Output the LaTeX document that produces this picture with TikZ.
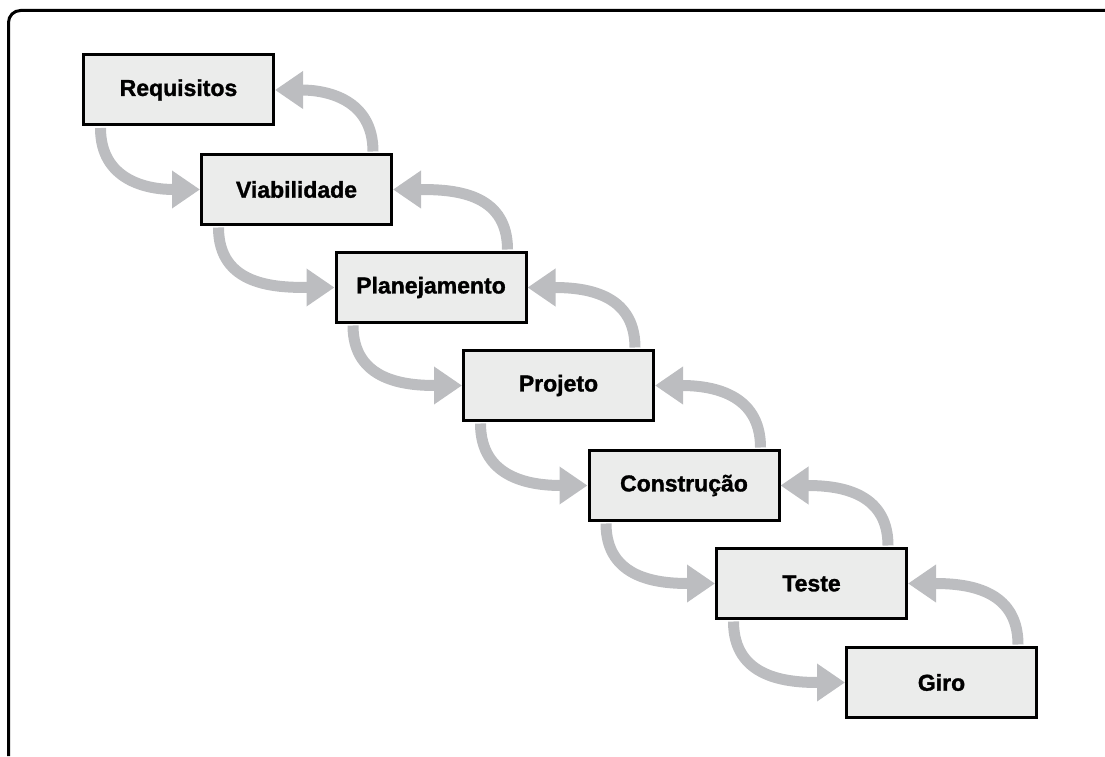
\documentclass[tikz,border=0pt]{standalone}
\usepackage{fontspec}
\setmainfont[BoldFeatures={FakeBold=1.3}]{Liberation Sans}
\usetikzlibrary{arrows.meta,calc}
\definecolor{arrowgray}{HTML}{BCBDC0}
\definecolor{boxfill}{HTML}{EBECEB}
\tikzset{
  stage/.style={draw=black, line width=3pt, fill=boxfill, minimum width=190pt, minimum height=70pt, inner sep=0pt, font=\fontsize{23}{27}\selectfont\bfseries},
  flowdown/.style={draw=arrowgray, line width=11pt, -{Triangle[length=28pt,width=36pt]}, looseness=1.15},
  flowup/.style={draw=arrowgray, line width=11pt, -{Triangle[length=28pt,width=36pt]}, looseness=1.15},
}
\begin{document}
\begin{tikzpicture}[x=1pt,y=1pt]
\useasboundingbox (0,0) rectangle (1105,756);
\draw[line width=3pt, rounded corners=12pt] (8.5,0) -- (8.5,745.5) -- (1105,745.5);

\node[stage] (n1) at (178.5,666) {Requisitos};
\node[stage] (n2) at (296.5,566.5) {Viabilidade};
\node[stage] (n3) at (431,468.5) {Planejamento};
\node[stage] (n4) at (558.5,370.5) {Projeto};
\node[stage] (n5) at (684,270.5) {Construção};
\node[stage] (n6) at (811.5,172.5) {Teste};
\node[stage] (n7) at (941.5,73.5) {Giro};

\foreach \a/\b in {n1/n2,n2/n3,n3/n4,n4/n5,n5/n6,n6/n7}{
  \draw[flowdown] ($(\a.south west)+(18.5,-1.5)$) to[out=-90,in=180] (\b.west);
  \draw[flowup] ($(\b.north east)+(-20,1.5)$) to[out=90,in=0] (\a.east);
}
\end{tikzpicture}
\end{document}
